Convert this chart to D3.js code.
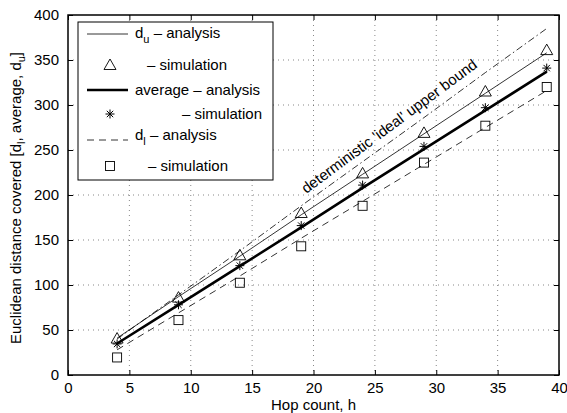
<!DOCTYPE html>
<html>
<head>
<meta charset="utf-8">
<script src="https://cdn.jsdelivr.net/npm/d3@7"></script>
<style>
  body { margin: 0; background: #fff; }
  svg { font-family: "Liberation Sans", Arial, sans-serif; }
</style>
</head>
<body>
<div id="chart"></div>
<script>
// hop counts
var hops = [4, 9, 14, 19, 24, 29, 34, 39];

// analysis curves
var duAnalysis = [41, 87, 132, 178, 223, 268, 313, 358];
var avgAnalysis = [35, 78, 121, 164, 208, 251, 294, 337];
var dlAnalysis = [28, 69, 110, 152, 193, 234, 275, 316];
var idealBound = [40, 89, 138, 188, 237, 286, 336, 385];

// simulation points
var duSim = [40.5, 86, 133, 180, 224, 269, 315, 361];
var avgSim = [34.5, 78, 121.5, 166, 211, 254, 297, 341];
var dlSim = [19.5, 61, 102.5, 143, 188, 236, 277, 320];

var xTicks = [0, 5, 10, 15, 20, 25, 30, 35, 40];
var yTicks = [0, 50, 100, 150, 200, 250, 300, 350, 400];

var W = 567, H = 413;
var margin = { top: 15, right: 8, bottom: 38, left: 68 };
var width = W - margin.left - margin.right;
var height = H - margin.top - margin.bottom;
var fs = "15px";

var svg = d3.select("#chart").append("svg")
  .attr("width", W).attr("height", H);
var g = svg.append("g")
  .attr("transform", "translate(" + margin.left + "," + margin.top + ")");

var x = d3.scaleLinear().domain([0, 40]).range([0, width]);
var y = d3.scaleLinear().domain([0, 400]).range([height, 0]);

// dotted grid
g.append("g").selectAll("line").data(xTicks.slice(1, -1)).enter().append("line")
  .attr("x1", function (d) { return x(d); }).attr("x2", function (d) { return x(d); })
  .attr("y1", 0).attr("y2", height)
  .attr("stroke", "#555").attr("stroke-width", 0.7).attr("stroke-dasharray", "1,4");
g.append("g").selectAll("line").data(yTicks.slice(1, -1)).enter().append("line")
  .attr("y1", function (d) { return y(d); }).attr("y2", function (d) { return y(d); })
  .attr("x1", 0).attr("x2", width)
  .attr("stroke", "#555").attr("stroke-width", 0.7).attr("stroke-dasharray", "1,4");

// axes (ticks inside, box style)
function styleAxis(sel) {
  sel.select(".domain").remove();
  sel.selectAll("line").attr("stroke", "#000");
  sel.selectAll("text").attr("fill", "#000").style("font-size", fs);
}
g.append("g").attr("transform", "translate(0," + height + ")")
  .call(d3.axisBottom(x).tickValues(xTicks).tickSizeInner(-5).tickSizeOuter(0).tickPadding(7.5))
  .call(styleAxis);
g.append("g")
  .call(d3.axisLeft(y).tickValues(yTicks).tickSizeInner(-5).tickSizeOuter(0).tickPadding(9))
  .call(styleAxis);
g.append("g")
  .call(d3.axisTop(x).tickValues(xTicks).tickSizeInner(-5).tickSizeOuter(0).tickFormat(""))
  .call(styleAxis);
g.append("g").attr("transform", "translate(" + width + ",0)")
  .call(d3.axisRight(y).tickValues(yTicks).tickSizeInner(-5).tickSizeOuter(0).tickFormat(""))
  .call(styleAxis);
g.append("rect").attr("width", width).attr("height", height)
  .attr("fill", "none").attr("stroke", "#000").attr("stroke-width", 1.5);

// lines
var line = d3.line()
  .x(function (d) { return x(d[0]); })
  .y(function (d) { return y(d[1]); });
function zip(vals) { return hops.map(function (h, i) { return [h, vals[i]]; }); }

g.append("path").datum(zip(idealBound)).attr("d", line)
  .attr("fill", "none").attr("stroke", "#000").attr("stroke-width", 0.8)
  .attr("stroke-dasharray", "7,3,1.5,3");
g.append("path").datum(zip(duAnalysis)).attr("d", line)
  .attr("fill", "none").attr("stroke", "#000").attr("stroke-width", 0.8);
g.append("path").datum(zip(avgAnalysis)).attr("d", line)
  .attr("fill", "none").attr("stroke", "#000").attr("stroke-width", 2.6);
g.append("path").datum(zip(dlAnalysis)).attr("d", line)
  .attr("fill", "none").attr("stroke", "#000").attr("stroke-width", 0.8)
  .attr("stroke-dasharray", "7,5");

// markers
function triangle(sel) {
  sel.append("path").attr("d", "M0,-6L6,4.5L-6,4.5Z")
    .attr("fill", "none").attr("stroke", "#000").attr("stroke-width", 0.9);
}
function star(sel) {
  sel.append("path").attr("d", "M-4.5,0L4.5,0M0,-4.5L0,4.5M-3.2,-3.2L3.2,3.2M-3.2,3.2L3.2,-3.2")
    .attr("fill", "none").attr("stroke", "#000").attr("stroke-width", 1);
}
function square(sel) {
  sel.append("rect").attr("x", -4.5).attr("y", -4.5).attr("width", 9).attr("height", 9)
    .attr("fill", "none").attr("stroke", "#000").attr("stroke-width", 0.9);
}
function drawPoints(vals, shape) {
  g.append("g").selectAll("g").data(zip(vals)).enter().append("g")
    .attr("transform", function (d) { return "translate(" + x(d[0]) + "," + y(d[1]) + ")"; })
    .call(shape);
}
drawPoints(duSim, triangle);
drawPoints(avgSim, star);
drawPoints(dlSim, square);

// bound annotation
g.append("text")
  .attr("transform", "translate(" + x(19.4) + "," + y(201) + ") rotate(-36.5)")
  .style("font-size", fs).text("deterministic 'ideal' upper bound");

// legend
var lg = svg.append("g").attr("transform", "translate(78,22)");
lg.append("rect").attr("width", 195).attr("height", 158)
  .attr("fill", "#fff").attr("stroke", "#000").attr("stroke-width", 1);
function legLine(yy, sw, dash) {
  lg.append("line").attr("x1", 9).attr("x2", 50).attr("y1", yy).attr("y2", yy)
    .attr("stroke", "#000").attr("stroke-width", sw).attr("stroke-dasharray", dash || null);
}
function legText(xx, yy, parts) {
  var t = lg.append("text").attr("x", xx).attr("y", yy).style("font-size", fs);
  parts.forEach(function (p) {
    var s = t.append("tspan").text(p[0]);
    if (p[1] === "sub") s.attr("dy", 5).style("font-size", "11px");
    if (p[1] === "up") s.attr("dy", -5);
  });
}
legLine(12, 0.8);
legText(57, 16, [["d"], ["u", "sub"], [" \u2013 analysis", "up"]]);
lg.append("g").attr("transform", "translate(32,43)").call(triangle);
legText(69, 48, [["\u2013 simulation"]]);
legLine(68, 2.6);
legText(57, 73, [["average \u2013 analysis"]]);
lg.append("g").attr("transform", "translate(32,92)").call(star);
legText(104, 97, [["\u2013 simulation"]]);
legLine(118, 0.8, "7,5");
legText(57, 118, [["d"], ["l", "sub"], [" \u2013 analysis", "up"]]);
lg.append("g").attr("transform", "translate(32,144)").call(square);
legText(70, 149, [["\u2013 simulation"]]);

// axis titles
svg.append("text").attr("x", margin.left + x(20)).attr("y", 410)
  .attr("text-anchor", "middle").style("font-size", fs).text("Hop count, h");
var yl = svg.append("text")
  .attr("transform", "translate(21," + (margin.top + height / 2 + 3) + ") rotate(-90)")
  .attr("text-anchor", "middle").style("font-size", fs);
yl.append("tspan").text("Euclidean distance covered [d");
yl.append("tspan").attr("dy", 4).style("font-size", "11px").text("l");
yl.append("tspan").attr("dy", -4).text(", average, d");
yl.append("tspan").attr("dy", 4).style("font-size", "11px").text("u");
yl.append("tspan").attr("dy", -4).text("]");
</script>
</body>
</html>
